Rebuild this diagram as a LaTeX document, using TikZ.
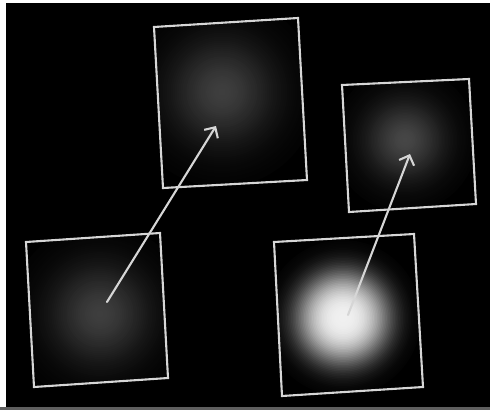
\documentclass[tikz,border=0pt]{standalone}
\usetikzlibrary{arrows.meta}
\definecolor{lineC}{RGB}{214,214,214}
\definecolor{dimA}{RGB}{62,62,62}
\definecolor{dimC}{RGB}{70,70,70}
\definecolor{hiD}{RGB}{240,240,240}
\definecolor{stripC}{RGB}{95,95,95}
\tikzset{
  frame/.style={draw=lineC, line width=2.1pt, line join=miter},
  move/.style={draw=lineC, line width=2.1pt, line cap=round, -{Straight Barb[length=8pt,width=16pt,line width=2.1pt]}}
}
% glow: center, radius, colour, falloff factor, falloff power
\newcommand{\myglow}[5]{%
  \foreach \i in {48,47,...,1}{%
    \pgfmathsetmacro\tt{\i/48}%
    \pgfmathsetmacro\pp{100*exp(-#4*(\tt^#5))}%
    \fill[#3!\pp!black] #1 circle ({#2*\tt});
  }%
}
\begin{document}
\begin{tikzpicture}[x=1pt,y=-1pt]
\useasboundingbox (0,0) rectangle (490,410);
% background
\fill[white] (0,0) rectangle (490,410);
\fill[black] (6,3) rectangle (490,407);
\fill[stripC] (0,407) rectangle (490,410);
% corners
\coordinate (a1) at (26,242); \coordinate (a2) at (160,233); \coordinate (a3) at (168,378); \coordinate (a4) at (34,387);
\coordinate (b1) at (154,27); \coordinate (b2) at (298,18); \coordinate (b3) at (307,180); \coordinate (b4) at (163,188);
\coordinate (c1) at (342,85); \coordinate (c2) at (469,79); \coordinate (c3) at (476,204); \coordinate (c4) at (349,212);
\coordinate (d1) at (274,242); \coordinate (d2) at (414,234); \coordinate (d3) at (423,387); \coordinate (d4) at (282,396);
% glows
\begin{scope}
\clip (a1) -- (a2) -- (a3) -- (a4) -- cycle;
\myglow{(100,314)}{90}{dimA}{3.2}{2}
\end{scope}
\begin{scope}
\clip (b1) -- (b2) -- (b3) -- (b4) -- cycle;
\myglow{(222,92)}{95}{dimA}{3.2}{2}
\end{scope}
\begin{scope}
\clip (c1) -- (c2) -- (c3) -- (c4) -- cycle;
\myglow{(405,140)}{72}{dimC}{3.2}{2}
\end{scope}
\begin{scope}
\clip (d1) -- (d2) -- (d3) -- (d4) -- cycle;
\myglow{(343,318)}{78}{hiD}{4.5}{3}
\end{scope}
% frames
\draw[frame] (a1) -- (a2) -- (a3) -- (a4) -- cycle;
\draw[frame] (b1) -- (b2) -- (b3) -- (b4) -- cycle;
\draw[frame] (c1) -- (c2) -- (c3) -- (c4) -- cycle;
\draw[frame] (d1) -- (d2) -- (d3) -- (d4) -- cycle;
% arrows
\coordinate (p1) at (107,302); \coordinate (q1) at (216,126);
\coordinate (p2) at (348,315); \coordinate (q2) at (410,154);
\draw[move] (p1) -- (q1);
\draw[move] (p2) -- (q2);
\end{tikzpicture}
\end{document}
